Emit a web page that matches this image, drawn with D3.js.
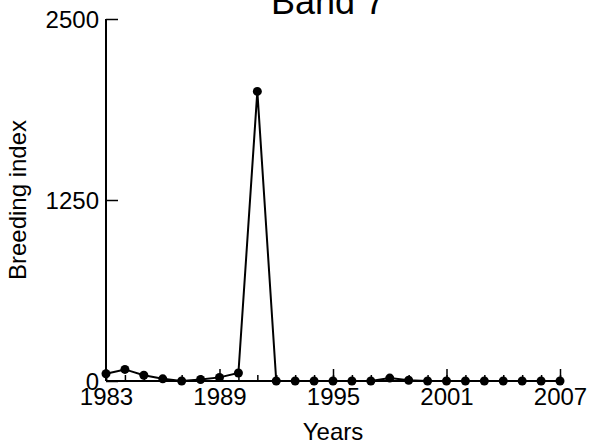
<!DOCTYPE html>
<html><head><meta charset="utf-8">
<script src="https://cdn.jsdelivr.net/npm/d3@7"></script>
<style>body{margin:0;background:#fff}svg{display:block}text{font-family:"Liberation Sans",Arial,sans-serif;fill:#000}</style>
</head><body>
<svg id="c" width="589" height="447"></svg>
<script>
const years = d3.range(1983, 2008);
const values = [50, 80, 40, 15, 0, 10, 25, 55, 2000, 0, 0, 0, 0, 0, 0, 20, 5, 0, 0, 0, 0, 0, 0, 0, 0];
const xTicks = [1983, 1989, 1995, 2001, 2007];
const yTicks = [0, 1250, 2500];
const title = "Band 7";

const svg = d3.select("#c");
const x = d3.scaleLinear().domain([1983, 2007]).range([106, 560]);
const y = d3.scaleLinear().domain([0, 2500]).range([381, 19]);

// minor x ticks (every year)
svg.append("g").attr("transform", "translate(0,381)")
  .call(d3.axisTop(x).tickValues(years).tickSize(6).tickFormat(""))
  .call(g => { g.select(".domain").remove(); g.selectAll("line").attr("stroke", "#000").attr("stroke-width", 1.5); });

// major x axis
const gx = svg.append("g").attr("transform", "translate(0,381)")
  .call(d3.axisTop(x).tickValues(xTicks).tickSize(12).tickPadding(0).tickFormat(d3.format("d")));
gx.attr("font-size", null).attr("font-family", null);
gx.select(".domain").attr("d", `M${x(1983)},0H${x(2007)}`).attr("stroke", "#000").attr("stroke-width", 2);
gx.selectAll(".tick line").attr("stroke", "#000").attr("stroke-width", 1.5);
gx.selectAll(".tick text").attr("y", 24).attr("dy", 0).style("font-size", "24px");

// y axis
const gy = svg.append("g").attr("transform", "translate(106,0)")
  .call(d3.axisRight(y).tickValues(yTicks).tickSize(12).tickFormat(d3.format("d")));
gy.attr("font-size", null).attr("font-family", null);
gy.select(".domain").attr("d", `M0,${y(2500)}V${y(0)}`).attr("stroke", "#000").attr("stroke-width", 2);
gy.selectAll(".tick line").attr("stroke", "#000").attr("stroke-width", 1.5);
gy.selectAll(".tick text").attr("x", -7).attr("text-anchor", "end").attr("dy", "0.35em").style("font-size", "24px");

// line
const data = years.map((yr, i) => ({yr, v: values[i]}));
svg.append("path").datum(data)
  .attr("fill", "none").attr("stroke", "#000").attr("stroke-width", 2)
  .attr("d", d3.line().x(d => x(d.yr)).y(d => y(d.v)));
svg.selectAll("circle.pt").data(data).enter().append("circle")
  .attr("cx", d => x(d.yr)).attr("cy", d => y(d.v)).attr("r", 4.5).attr("fill", "#000");

// titles
svg.append("text").attr("x", 328).attr("y", 14).attr("text-anchor", "middle").style("font-size", "36px").text(title);
svg.append("text").attr("x", 333).attr("y", 440).attr("text-anchor", "middle").style("font-size", "24px").text("Years");
svg.append("text").attr("transform", "translate(26,200) rotate(-90)").attr("text-anchor", "middle").style("font-size", "24px").text("Breeding index");
</script>
</body></html>
